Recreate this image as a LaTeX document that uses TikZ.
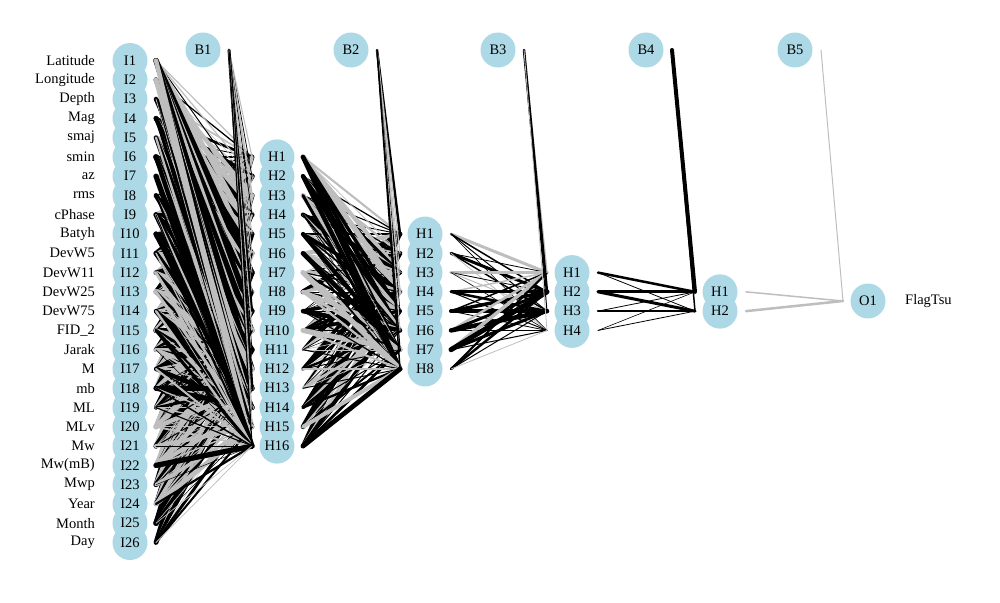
\documentclass[tikz,border=0pt]{standalone}
\usepackage{fontspec}
\setmainfont{Liberation Serif}
\definecolor{nodeblue}{RGB}{173,216,230}
\definecolor{lg}{RGB}{190,190,190}
\newcommand\wconn[4]{\draw[line width=#3pt,#4] ([xshift=26pt]#1.center) -- ([xshift=-25pt]#2.center);}
\begin{document}
\begin{tikzpicture}[x=1pt,y=-1pt,
  neuron/.style={circle,fill=nodeblue,draw=none,minimum size=35pt,inner sep=0pt},
  lab/.style={inner sep=0pt,font=\fontsize{14.5}{17}\selectfont},
  line cap=round]
\useasboundingbox (0,0) rectangle (1000,602);
\def\sp{19.28}
% neurons (circles first, then their texts on top)
\foreach \i in {1,...,26}{\pgfmathsetmacro\yy{301.5+\sp*(\i-13.5)}\node[neuron] (I\i) at (130,\yy) {};}
\foreach \j in {1,...,16}{\pgfmathsetmacro\yy{301.5+\sp*(\j-8.5)}\node[neuron] (HA\j) at (277,\yy) {};}
\foreach \j in {1,...,8}{\pgfmathsetmacro\yy{301.5+\sp*(\j-4.5)}\node[neuron] (HB\j) at (425,\yy) {};}
\foreach \j in {1,...,4}{\pgfmathsetmacro\yy{301.5+\sp*(\j-2.5)}\node[neuron] (HC\j) at (572,\yy) {};}
\foreach \j in {1,...,2}{\pgfmathsetmacro\yy{301.5+\sp*(\j-1.5)}\node[neuron] (HD\j) at (720,\yy) {};}
\node[neuron] (O1) at (868,301) {};
\node[neuron] (Bias1) at (203,50) {};
\node[neuron] (Bias2) at (351,50) {};
\node[neuron] (Bias3) at (498,50) {};
\node[neuron] (Bias4) at (646,50) {};
\node[neuron] (Bias5) at (795,50) {};
% texts
\foreach \t [count=\i] in {Latitude,Longitude,Depth,Mag,smaj,smin,az,rms,cPhase,Batyh,DevW5,DevW11,DevW25,DevW75,FID\_2,Jarak,M,mb,ML,MLv,Mw,Mw(mB),Mwp,Year,Month,Day}{
  \node[lab] (tI\i) at (I\i) {I\i};
  \node[lab,anchor=east] (L\i) at ([xshift=-35pt]I\i.center) {\t};
}
\foreach \j in {1,...,16}{\node[lab] (tHA\j) at (HA\j) {H\j};}
\foreach \j in {1,...,8}{\node[lab] (tHB\j) at (HB\j) {H\j};}
\foreach \j in {1,...,4}{\node[lab] (tHC\j) at (HC\j) {H\j};}
\foreach \j in {1,...,2}{\node[lab] (tHD\j) at (HD\j) {H\j};}
\node[lab] (tO1) at (O1) {O1};
\node[lab,anchor=west] (FT) at ([xshift=37pt]O1.center) {FlagTsu};
\foreach \k in {1,...,5}{\node[lab] (tB\k) at (Bias\k) {B\k};}
\pgfmathsetseed{4242}
% input -> hidden 1
\foreach \j in {1,...,16}{\foreach \i in {1,...,26}{
  \pgfmathsetmacro\w{0.4+5*rnd^1.5}
  \pgfmathtruncatemacro\b{rnd<0.52}
  \ifnum\b=1 \def\cc{black}\else\def\cc{lg}\fi
  \wconn{I\i}{HA\j}{\w}{\cc}
}}
% bias 1 -> hidden 1
\foreach \j in {1,...,16}{
  \pgfmathsetmacro\w{0.4+3*rnd*rnd}
  \pgfmathtruncatemacro\b{rnd<0.5}
  \ifnum\b=1 \def\cc{black}\else\def\cc{lg}\fi
  \wconn{Bias1}{HA\j}{\w}{\cc}
}
% hidden 1 -> hidden 2
\foreach \j in {1,...,8}{\foreach \i in {1,...,16}{
  \pgfmathsetmacro\w{0.4+5*rnd^1.5}
  \pgfmathtruncatemacro\b{rnd<0.55}
  \ifnum\b=1 \def\cc{black}\else\def\cc{lg}\fi
  \wconn{HA\i}{HB\j}{\w}{\cc}
}}
% bias 2 -> hidden 2
\foreach \j/\w/\cc in {1/2.5/black,2/1.2/lg,3/0.8/lg,4/1.5/lg,5/0.6/black,6/1/lg,7/1.2/black,8/1.5/black}{
  \wconn{Bias2}{HB\j}{\w}{\cc}
}
% hidden 2 -> hidden 3
\foreach \i/\j/\w/\cc in {
 1/1/3/lg,1/2/1.5/black,1/3/1/black,1/4/0.6/black,
 2/1/0.8/black,2/2/3/black,2/3/1.5/black,2/4/0.8/lg,
 3/1/3.5/lg,3/2/0.8/black,3/3/1/lg,3/4/0.6/black,
 4/1/1.5/lg,4/2/3/black,4/3/2.5/black,4/4/1/black,
 5/1/1.5/black,5/2/3.5/black,5/3/4/black,5/4/0.8/black,
 6/1/2.5/lg,6/2/3/black,6/3/4.5/black,6/4/0.6/black,
 7/1/3.5/lg,7/2/5/black,7/3/3/black,7/4/1/black,
 8/1/2/black,8/2/2.5/black,8/3/1/black,8/4/0.8/lg}{
  \wconn{HB\i}{HC\j}{\w}{\cc}
}
% bias 3 -> hidden 3
\foreach \j/\w/\cc in {1/1.5/lg,2/2.5/black,3/1/black,4/0.8/lg}{
  \wconn{Bias3}{HC\j}{\w}{\cc}
}
% hidden 3 -> hidden 4
\foreach \i/\j/\w/\cc in {1/1/2.5/black,1/2/0.8/black,2/1/3/black,2/2/3/black,3/1/0.8/black,3/2/2.5/black,4/1/0.6/black,4/2/0.8/black}{
  \wconn{HC\i}{HD\j}{\w}{\cc}
}
\wconn{Bias4}{HD1}{4}{black}
\wconn{Bias4}{HD2}{1.5}{black}
% hidden 4 -> output
\wconn{HD1}{O1}{1.5}{lg}
\wconn{HD2}{O1}{2.5}{lg}
\wconn{Bias5}{O1}{1}{lg}
\end{tikzpicture}
\end{document}
